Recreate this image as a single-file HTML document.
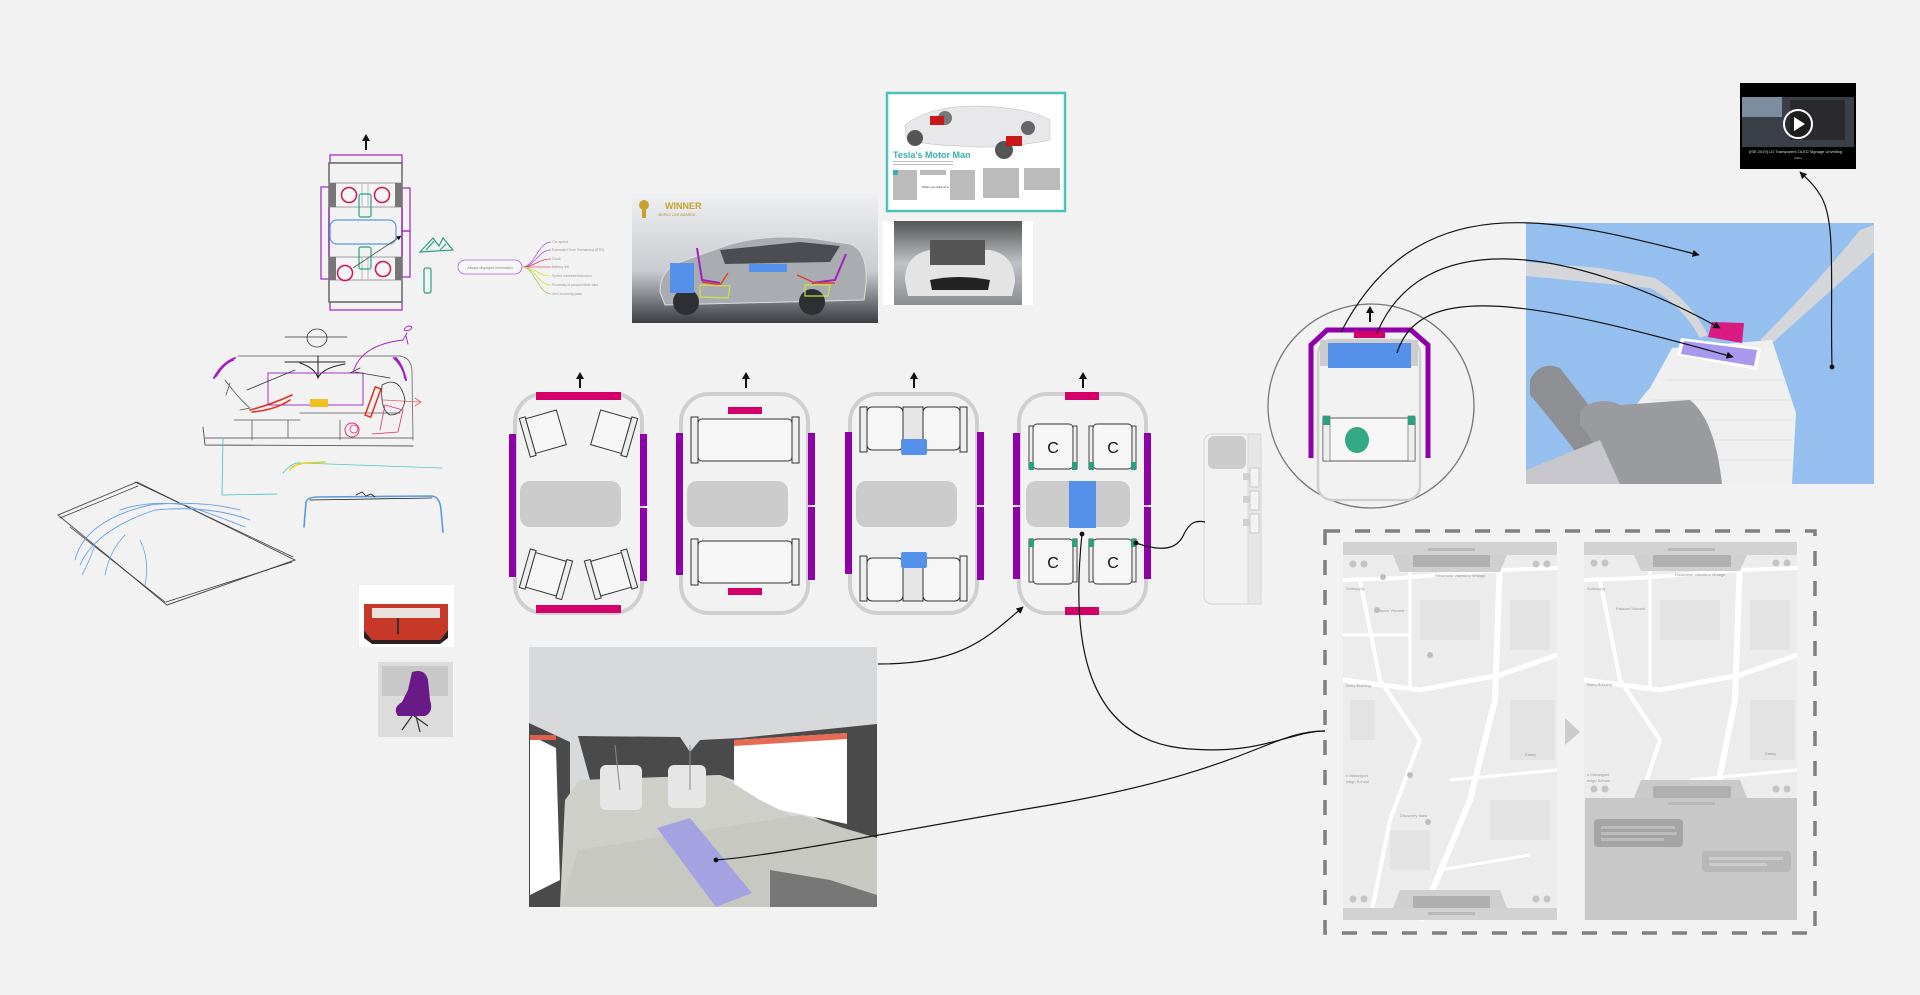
<!DOCTYPE html>
<html><head><meta charset="utf-8"><style>
html,body{margin:0;padding:0;background:#f2f2f2;}
svg{display:block;font-family:"Liberation Sans",sans-serif;}
</style></head><body>
<svg width="1920" height="995" viewBox="0 0 1920 995" xmlns="http://www.w3.org/2000/svg">
<defs>
<marker id="ah" viewBox="0 0 10 10" refX="9" refY="5" markerWidth="6" markerHeight="6" orient="auto"><path d="M0,0 L10,5 L0,10 z" fill="#111"/></marker>
<marker id="dot" viewBox="0 0 10 10" refX="5" refY="5" markerWidth="5" markerHeight="5"><circle cx="5" cy="5" r="4" fill="#111"/></marker>
<linearGradient id="rr" x1="0" y1="0" x2="0" y2="1"><stop offset="0" stop-color="#eef0f2"/><stop offset="0.6" stop-color="#c9ccd0"/><stop offset="1" stop-color="#3a3d42"/></linearGradient>
<linearGradient id="eng" x1="0" y1="0" x2="0" y2="1"><stop offset="0" stop-color="#555"/><stop offset="0.5" stop-color="#bfc2c6"/><stop offset="1" stop-color="#8a8d90"/></linearGradient>
<g id="arrowUp"><line x1="0" y1="14" x2="0" y2="4" stroke="#111" stroke-width="2"/><path d="M-4,5 L0,-2 L4,5 z" fill="#111"/></g>
</defs>

<!-- ================= TOP-LEFT DIAGRAM ================= -->
<use href="#arrowUp" x="366" y="136"/>
<rect x="330" y="155" width="72" height="8" fill="none" stroke="#a020c0" stroke-width="1.2"/>
<rect x="330" y="302" width="72" height="8" fill="none" stroke="#a020c0" stroke-width="1.2"/>
<rect x="329" y="163" width="73" height="139" fill="#f2f2f2" stroke="#666" stroke-width="1.5"/>
<rect x="321" y="187" width="8" height="92" fill="none" stroke="#a020c0" stroke-width="1.2"/>
<rect x="402" y="188" width="8" height="43" fill="none" stroke="#a020c0" stroke-width="1.2"/>
<rect x="402" y="231" width="8" height="46" fill="none" stroke="#a020c0" stroke-width="1.2"/>
<rect x="329" y="183" width="73" height="24" fill="#f5f5f5" stroke="#888" stroke-width="0.8"/>
<rect x="329" y="183" width="7" height="24" fill="#777"/><rect x="395" y="183" width="7" height="24" fill="#777"/>
<rect x="329" y="257" width="73" height="23" fill="#f5f5f5" stroke="#888" stroke-width="0.8"/>
<rect x="329" y="257" width="7" height="23" fill="#777"/><rect x="395" y="257" width="7" height="23" fill="#777"/>
<line x1="362" y1="183" x2="362" y2="207" stroke="#bbb"/><line x1="368" y1="183" x2="368" y2="207" stroke="#bbb"/>
<line x1="362" y1="257" x2="362" y2="280" stroke="#bbb"/><line x1="368" y1="257" x2="368" y2="280" stroke="#bbb"/>
<circle cx="349" cy="195" r="7.5" fill="none" stroke="#d0105a" stroke-width="1.5"/>
<circle cx="382" cy="195" r="7.5" fill="none" stroke="#d0105a" stroke-width="1.5"/>
<circle cx="345" cy="273" r="7.5" fill="none" stroke="#d0105a" stroke-width="1.5"/>
<circle cx="383" cy="269" r="7.5" fill="none" stroke="#d0105a" stroke-width="1.5"/>
<rect x="359" y="194" width="12" height="23" rx="2" fill="none" stroke="#2aa080" stroke-width="1.2"/>
<rect x="359" y="247" width="12" height="22" rx="2" fill="none" stroke="#2aa080" stroke-width="1.2"/>
<rect x="330" y="220" width="66" height="24" rx="7" fill="none" stroke="#5a9ae0" stroke-width="1.2"/>
<line x1="353" y1="268" x2="401" y2="236" stroke="#555" stroke-width="0.8" marker-end="url(#ah)"/>
<path d="M420,252 L433,238 L439,246 L443,238 L453,250 z M426,250 L434,241 M440,250 L446,244" fill="none" stroke="#2aa080" stroke-width="1.2"/>
<rect x="424" y="268" width="7" height="25" rx="2" fill="none" stroke="#2aa080" stroke-width="1.2"/>
<!-- mindmap -->
<rect x="458" y="260" width="64" height="14" rx="7" fill="#f6f6f6" stroke="#b060e0" stroke-width="0.8"/>
<text x="490" y="269" font-size="3.5" fill="#888" text-anchor="middle">Always displayed information</text>
<g fill="none" stroke-width="0.8">
<path d="M522,267 C535,267 538,242 551,242" stroke="#b060e0"/>
<path d="M522,267 C535,267 538,250 551,250" stroke="#b060e0"/>
<path d="M522,267 C535,267 538,259 551,259" stroke="#e0307a"/>
<path d="M522,267 L551,267" stroke="#e05070"/>
<path d="M522,267 C535,267 538,276 551,276" stroke="#e0e040"/>
<path d="M522,267 C535,267 538,285 551,285" stroke="#c8e040"/>
<path d="M522,267 C535,267 538,294 551,294" stroke="#90d060"/>
</g>
<g font-size="3.5" fill="#999">
<text x="552" y="243">Car speed</text><text x="552" y="251">Estimated Time Remaining (ETR)</text>
<text x="552" y="260">Clock</text><text x="552" y="268">Battery left</text>
<text x="552" y="277">Speed increase/reduction</text><text x="552" y="286">Proximity of people/other cars</text>
<text x="552" y="295">next incoming pass</text></g>

<!-- ================= SKETCHES ================= -->
<g fill="none" stroke-linecap="round">
<path d="M285,337 L347,337" stroke="#333" stroke-width="0.8"/>
<ellipse cx="317" cy="338" rx="10" ry="9" stroke="#333" stroke-width="0.8"/>
<path d="M238,356 L400,356 Q412,358 412,372 L413,440" stroke="#777" stroke-width="0.9"/>
<path d="M203,427 L205,445 L413,446" stroke="#555" stroke-width="0.9"/>
<path d="M205,438 L413,438" stroke="#444" stroke-width="0.8"/>
<path d="M234,420 L300,420 M300,413 L400,413 M252,420 L252,440 M288,420 L288,438 M340,420 L340,440" stroke="#555" stroke-width="0.8"/>
<path d="M285,362 L345,362 M300,363 Q315,368 318,378 Q322,368 345,364 M318,356 L318,378" stroke="#222" stroke-width="1"/>
<path d="M225,380 Q240,400 250,408 L240,410 M230,383 L226,395" stroke="#555" stroke-width="0.8"/>
<rect x="268" y="373" width="95" height="32" stroke="#a020c0" stroke-width="0.9"/>
<path d="M247,390 L295,370 M355,372 L390,378 M350,373 L360,368" stroke="#333" stroke-width="0.8"/>
<path d="M353,373 Q360,345 403,340 L407,333" stroke="#a020c0" stroke-width="0.9"/>
<path d="M404,330 q3,-6 8,-3 q-2,5 -8,3 M406,336 l2,8" stroke="#a020c0" stroke-width="0.9"/>
<path d="M214,378 Q222,363 235,358 M216,376 Q225,362 233,360" stroke="#a020c0" stroke-width="2"/>
<path d="M394,358 Q403,366 406,380 M396,358 Q404,368 405,378" stroke="#a020c0" stroke-width="2"/>
<path d="M250,410 Q270,405 292,395 M252,412 Q275,410 290,400" stroke="#e03020" stroke-width="1.6"/>
<rect x="370" y="387" width="6" height="30" transform="rotate(20 373 402)" stroke="#e03020" stroke-width="1.5"/>
<path d="M383,400 L420,402 M415,398 L421,402 L415,406" stroke="#e06060" stroke-width="0.8"/>
<path d="M382,385 Q400,375 405,400 Q403,415 390,415 Q380,410 382,385" stroke="#333" stroke-width="0.8"/>
<path d="M380,430 L385,405 L403,410 L398,432 L372,434" stroke="#e0307a" stroke-width="0.8"/>
<circle cx="352" cy="430" r="7" stroke="#e0307a" stroke-width="1"/><circle cx="354" cy="429" r="4" stroke="#e0307a" stroke-width="0.8"/>
<path d="M223,438 L222,495 L277,494" stroke="#40c0c0" stroke-width="0.8"/>
<path d="M283,473 Q292,462 300,463 L442,468" stroke="#50c8c8" stroke-width="0.8"/>
<path d="M290,470 Q292,465 305,463 L325,462" stroke="#e8d020" stroke-width="1.6"/>
<path d="M304,527 L306,502 Q308,497 318,497 L432,496 Q440,497 441,510 L443,532" stroke="#5a9ae0" stroke-width="1.6"/>
<path d="M310,500 L432,498" stroke="#222" stroke-width="0.8"/>
<path d="M356,495 l6,-3 l4,4 l5,-2 l4,3" stroke="#222" stroke-width="0.8"/>
<path d="M58,515 L137,482 L295,560 L167,605 Z" stroke="#555" stroke-width="1"/>
<path d="M60,518 L138,486 M135,482 L293,557 M70,527 L165,602 M166,602 L292,562" stroke="#333" stroke-width="0.7"/>
<path d="M75,560 Q85,520 150,505 Q200,500 240,510 M80,565 Q95,530 155,510 Q210,505 250,520 M120,510 Q150,500 185,505 Q215,515 245,527" stroke="#6aa0e8" stroke-width="0.9"/>
<path d="M82,575 Q90,560 95,545 M105,575 Q110,550 125,535 M140,540 Q150,560 145,585" stroke="#6aa0e8" stroke-width="0.8"/>
</g>
<rect x="310" y="399" width="18" height="8" fill="#f0c020"/>

<!-- ================= PHOTOS LEFT ================= -->
<rect x="359" y="585" width="95" height="62" fill="#fff"/>
<path d="M364,604 L448,604 L448,630 L440,640 L372,640 L364,630 z" fill="#c83828"/>
<path d="M372,608 L440,608 L440,618 L372,618 z" fill="#e9e2dc"/>
<path d="M364,630 L372,640 L440,640 L448,630 L448,638 L440,644 L372,644 L364,638 z" fill="#2a2020"/>
<rect x="397" y="618" width="2" height="16" fill="#333"/>
<rect x="378" y="662" width="75" height="75" fill="#dcdcdc"/>
<rect x="382" y="666" width="66" height="30" fill="#c8c8c8"/>
<path d="M412,672 Q425,668 428,680 L430,700 Q434,712 425,716 L398,716 Q392,708 402,702 L408,690 Z" fill="#6a1a86"/>
<path d="M412,716 L402,730 M416,716 L420,732 M414,716 L428,726" stroke="#333" stroke-width="1.2"/>

<!-- ================= TOP IMAGES ================= -->
<rect x="632" y="193" width="246" height="130" fill="url(#rr)"/>
<path d="M660,292 Q660,270 680,262 L725,246 Q760,234 810,238 L850,244 Q868,250 866,285 L864,300 L665,305 Z" fill="#a9acb0" stroke="#ddd"/>
<path d="M720,250 L800,242 L840,246 L830,262 L725,264 Z" fill="#4a4d52"/>
<circle cx="686" cy="302" r="13" fill="#2d2f33"/><circle cx="812" cy="302" r="13" fill="#2d2f33"/>
<rect x="670" y="263" width="24" height="30" fill="#5591ea"/>
<rect x="749" y="264" width="38" height="8" fill="#5591ea"/>
<path d="M697,248 L702,280 L720,283 M846,254 L835,280 L812,283" fill="none" stroke="#a020c0" stroke-width="2"/>
<path d="M702,282 L720,285 L728,273 M797,275 L815,283 L835,283" fill="none" stroke="#e04020" stroke-width="1.4"/>
<path d="M700,285 L730,286 L728,298 L700,297 z M805,285 L830,285 L828,296 L805,296 z" fill="none" stroke="#d0e040" stroke-width="1.2"/>
<circle cx="644" cy="205" r="5" fill="#c8a030"/><rect x="642" y="208" width="4" height="10" fill="#c8a030"/>
<text x="665" y="209" font-size="9" font-weight="bold" fill="#c8a030">WINNER</text>
<text x="658" y="216" font-size="3.5" fill="#b09030">WORLD CAR AWARDS</text>
<rect x="887" y="93" width="178" height="118" fill="#fff" stroke="#4ec0b8" stroke-width="2.5"/>
<path d="M905,125 Q930,105 980,106 Q1030,108 1050,120 L1050,140 Q1000,150 960,146 Q920,145 906,138 Z" fill="#e8e8ea" stroke="#bbb" stroke-width="0.5"/>
<circle cx="915" cy="138" r="8" fill="#555"/><circle cx="1004" cy="150" r="9" fill="#555"/><circle cx="1028" cy="128" r="7" fill="#666"/><circle cx="945" cy="118" r="7" fill="#777"/>
<rect x="930" y="116" width="14" height="9" fill="#c81818"/><rect x="1006" y="136" width="16" height="10" fill="#c81818"/>
<text x="893" y="158" font-size="9" font-weight="bold" fill="#3ab0b0">Tesla's Motor Man</text>
<g fill="#bbb"><rect x="893" y="161" width="60" height="1"/><rect x="893" y="164" width="60" height="1"/>
<rect x="893" y="170" width="24" height="30"/><rect x="920" y="170" width="26" height="5"/><rect x="950" y="170" width="25" height="30"/>
<rect x="983" y="168" width="36" height="30"/><rect x="1024" y="168" width="36" height="22"/></g>
<rect x="893" y="170" width="5" height="5" fill="#3ab0b0"/>
<rect x="919" y="182" width="30" height="14" fill="#fff"/><text x="922" y="188" font-size="3" fill="#333">When you think of a</text>
<rect x="883" y="221" width="150" height="84" fill="#fff"/>
<rect x="894" y="221" width="128" height="84" fill="url(#eng)"/>
<path d="M905,280 Q905,255 930,250 L990,250 Q1015,255 1015,282 L1012,296 L908,296 Z" fill="#e4e4e4"/>
<rect x="930" y="240" width="55" height="25" fill="#555"/>
<path d="M930,280 Q958,274 990,280 L988,290 L932,290 Z" fill="#222"/>

<!-- ================= CARS ================= -->
<use href="#arrowUp" x="580" y="374"/>
<use href="#arrowUp" x="746" y="374"/>
<use href="#arrowUp" x="914" y="374"/>
<use href="#arrowUp" x="1083" y="374"/>

<g transform="translate(515,394)">
<rect x="0" y="0" width="127" height="219" rx="28" fill="#f2f2f2" stroke="#cfcfcf" stroke-width="4"/>
<rect x="21" y="-2" width="85" height="8" fill="#d4006a"/>
<rect x="21" y="211" width="85" height="8" fill="#d4006a"/>
<rect x="-6" y="40" width="7" height="143" fill="#8e00a8"/>
<rect x="125" y="40" width="7" height="72" fill="#8e00a8"/><rect x="125" y="114" width="7" height="73" fill="#8e00a8"/>
<rect x="5" y="87" width="101" height="46" rx="10" fill="#cccccc"/>
<g stroke="#333" stroke-width="1" fill="#f6f6f6">
<g transform="translate(30,38) rotate(-16)"><rect x="-15" y="-18" width="32" height="36"/><rect x="-21" y="-20" width="6" height="40" fill="#eee"/></g>
<g transform="translate(97,38) rotate(16)"><rect x="-17" y="-18" width="32" height="36"/><rect x="15" y="-20" width="6" height="40" fill="#eee"/></g>
<g transform="translate(30,180) rotate(16)"><rect x="-15" y="-18" width="32" height="36"/><rect x="17" y="-20" width="6" height="40" fill="#eee"/><rect x="-21" y="-20" width="6" height="40" fill="#eee"/></g>
<g transform="translate(97,180) rotate(-16)"><rect x="-17" y="-18" width="32" height="36"/><rect x="-23" y="-20" width="6" height="40" fill="#eee"/><rect x="15" y="-20" width="6" height="40" fill="#eee"/></g>
</g>
</g>

<g transform="translate(681,394)">
<rect x="0" y="0" width="127" height="219" rx="28" fill="#f2f2f2" stroke="#cfcfcf" stroke-width="4"/>
<rect x="47" y="13" width="34" height="7" fill="#d4006a"/>
<rect x="47" y="194" width="34" height="7" fill="#d4006a"/>
<rect x="-5" y="39" width="7" height="142" fill="#8e00a8"/>
<rect x="127" y="39" width="7" height="72" fill="#8e00a8"/><rect x="127" y="113" width="7" height="73" fill="#8e00a8"/>
<rect x="6" y="87" width="101" height="46" rx="10" fill="#cccccc"/>
<g stroke="#333" stroke-width="1" fill="#f6f6f6">
<rect x="17" y="25" width="94" height="42" rx="4"/><rect x="10" y="23" width="7" height="46" fill="#eee"/><rect x="111" y="23" width="7" height="46" fill="#eee"/>
<rect x="17" y="147" width="94" height="42" rx="4"/><rect x="10" y="145" width="7" height="46" fill="#eee"/><rect x="111" y="145" width="7" height="46" fill="#eee"/>
</g>
</g>

<g transform="translate(850,394)">
<rect x="0" y="0" width="127" height="219" rx="28" fill="#f2f2f2" stroke="#cfcfcf" stroke-width="4"/>
<rect x="-5" y="38" width="7" height="142" fill="#8e00a8"/>
<rect x="127" y="38" width="7" height="73" fill="#8e00a8"/><rect x="127" y="113" width="7" height="73" fill="#8e00a8"/>
<rect x="6" y="87" width="101" height="46" rx="10" fill="#cccccc"/>
<g stroke="#333" stroke-width="1" fill="#f6f6f6">
<rect x="10" y="13" width="7" height="45" fill="#eee"/><rect x="17" y="13" width="36" height="43" rx="5"/><rect x="53" y="13" width="20" height="43" fill="#e6e6e6"/><rect x="73" y="13" width="37" height="43" rx="5"/><rect x="110" y="13" width="7" height="45" fill="#eee"/>
<rect x="10" y="162" width="7" height="45" fill="#eee"/><rect x="17" y="164" width="36" height="43" rx="5"/><rect x="53" y="164" width="20" height="43" fill="#e6e6e6"/><rect x="73" y="164" width="37" height="43" rx="5"/><rect x="110" y="162" width="7" height="45" fill="#eee"/>
</g>
<rect x="51" y="45" width="26" height="16" rx="2" fill="#5591ea"/>
<rect x="51" y="158" width="26" height="16" rx="2" fill="#5591ea"/>
</g>

<g transform="translate(1019,394)">
<rect x="0" y="0" width="127" height="219" rx="28" fill="#f2f2f2" stroke="#cfcfcf" stroke-width="4"/>
<rect x="46" y="-2" width="34" height="8" fill="#d4006a"/>
<rect x="46" y="213" width="34" height="8" fill="#d4006a"/>
<rect x="-6" y="39" width="7" height="72" fill="#8e00a8"/><rect x="-6" y="113" width="7" height="72" fill="#8e00a8"/>
<rect x="125" y="39" width="7" height="72" fill="#8e00a8"/><rect x="125" y="113" width="7" height="72" fill="#8e00a8"/>
<rect x="7" y="87" width="104" height="46" rx="10" fill="#cccccc"/>
<rect x="50" y="87" width="27" height="47" fill="#5591ea"/>
<g stroke="#333" stroke-width="0.9" fill="#f6f6f6">
<rect x="14" y="30" width="40" height="45" rx="4"/><rect x="10" y="32" width="4" height="43" fill="#eee"/><rect x="54" y="32" width="4" height="43" fill="#eee"/>
<rect x="74" y="30" width="39" height="45" rx="4"/><rect x="70" y="32" width="4" height="43" fill="#eee"/><rect x="113" y="32" width="4" height="43" fill="#eee"/>
<rect x="14" y="145" width="40" height="45" rx="4"/><rect x="10" y="145" width="4" height="43" fill="#eee"/><rect x="54" y="145" width="4" height="43" fill="#eee"/>
<rect x="74" y="145" width="39" height="45" rx="4"/><rect x="70" y="145" width="4" height="43" fill="#eee"/><rect x="113" y="145" width="4" height="43" fill="#eee"/>
</g>
<g fill="#2aa080">
<rect x="10" y="68" width="5" height="8"/><rect x="53" y="68" width="5" height="8"/><rect x="70" y="68" width="5" height="8"/><rect x="112" y="68" width="5" height="8"/>
<rect x="10" y="145" width="5" height="8"/><rect x="53" y="145" width="5" height="8"/><rect x="70" y="145" width="5" height="8"/><rect x="112" y="145" width="5" height="8"/>
</g>
<g font-size="16" fill="#111" text-anchor="middle" font-family="Liberation Sans"><text x="34" y="59">C</text><text x="94" y="59">C</text><text x="34" y="174">C</text><text x="94" y="174">C</text></g>
</g>

<!-- phone device -->
<rect x="1204" y="434" width="57" height="170" rx="8" fill="#f2f2f2" stroke="#d8d8d8" stroke-width="1.2"/>
<rect x="1248" y="434" width="13" height="170" fill="#e6e6e6" stroke="#d8d8d8"/>
<rect x="1208" y="436" width="38" height="33" rx="6" fill="#cccccc"/>
<g fill="#f2f2f2" stroke="#c8c8c8"><rect x="1250" y="468" width="9" height="19" rx="1"/><rect x="1250" y="491" width="9" height="19" rx="1"/><rect x="1250" y="514" width="9" height="19" rx="1"/></g>
<g fill="#d0d0d0"><rect x="1243" y="473" width="7" height="7"/><rect x="1243" y="496" width="7" height="7"/><rect x="1243" y="519" width="7" height="7"/></g>

<!-- VR image -->
<rect x="529" y="647" width="348" height="260" fill="#d8d9db"/>
<path d="M529,723 L570,742 L570,907 L529,907 Z" fill="#4a4a4a"/>
<path d="M578,736 L680,737 L690,752 L700,740 L740,738 L877,724 L877,840 L820,820 L760,790 L720,775 L590,780 Z" fill="#4a4a4a"/>
<path d="M530,735 L556,748 L560,880 L530,895 Z" fill="#fff"/>
<rect x="530" y="735" width="26" height="5" fill="#e06050"/>
<path d="M734,740 L847,733 L847,824 L734,800 Z" fill="#fff"/>
<path d="M734,740 L847,733 L847,739 L734,746 Z" fill="#e86a55"/>
<path d="M580,780 L720,775 L760,800 L840,840 L877,860 L877,907 L560,907 L565,800 Z" fill="#cfcfca"/>
<path d="M578,850 L800,815 L877,838 L877,907 L560,907 Z" fill="#c8c8c3"/>
<path d="M657,828 L690,818 L752,893 L716,907 Z" fill="#a4a2e0"/>
<rect x="600" y="765" width="42" height="45" rx="6" fill="#e6e6e6"/><rect x="668" y="765" width="38" height="43" rx="6" fill="#e6e6e6"/>
<path d="M615,745 L620,790 M690,745 L690,790" stroke="#888" stroke-width="1"/>
<path d="M770,870 L830,880 L877,895 L877,907 L770,907 Z" fill="#777"/>

<!-- ============ CIRCLE DETAIL ============ -->
<ellipse cx="1371" cy="406" rx="103" ry="102" fill="none" stroke="#777" stroke-width="1.3"/>
<rect x="1318" y="340" width="102" height="160" rx="14" fill="#f2f2f2" stroke="#cfcfcf" stroke-width="2.5"/>
<rect x="1320" y="340" width="98" height="26" fill="#cccccc"/>
<path d="M1311,458 L1311,345 L1327,330 L1411,330 L1428,345 L1428,458" fill="none" stroke="#8e00a8" stroke-width="5"/>
<rect x="1328" y="343" width="83" height="25" fill="#5591ea"/>
<rect x="1354" y="331" width="31" height="7" fill="#d4006a"/>
<rect x="1323" y="418" width="92" height="43" fill="#f6f6f6" stroke="#333" stroke-width="0.8"/>
<rect x="1323" y="416" width="7" height="45" fill="#eee" stroke="#555" stroke-width="0.6"/>
<rect x="1408" y="416" width="7" height="45" fill="#eee" stroke="#555" stroke-width="0.6"/>
<rect x="1323" y="416" width="7" height="9" fill="#2aa080"/><rect x="1408" y="416" width="7" height="9" fill="#2aa080"/>
<ellipse cx="1357" cy="440" rx="12" ry="13" fill="#35a884"/>
<use href="#arrowUp" x="1370" y="308"/>

<!-- 3D image -->
<rect x="1526" y="223" width="348" height="261" fill="#95bfee"/>
<path d="M1526,262 L1600,268 L1655,278 Q1690,300 1708,335 L1700,338 Q1682,305 1650,288 L1526,276 Z" fill="#d4d6da"/>
<path d="M1874,225 L1874,252 L1770,345 L1760,340 Q1820,280 1860,230 Z" fill="#d4d6da"/>
<path d="M1672,348 L1772,340 L1796,413 L1792,484 L1590,484 Q1625,415 1650,388 Z" fill="#efefef"/>
<g stroke="#e2e2e2" stroke-width="1"><path d="M1665,380 L1785,380 M1652,400 L1790,400 M1640,420 L1792,420 M1628,440 L1792,440 M1615,460 L1792,460"/></g>
<path d="M1681,338 L1761,348 L1757,370 L1677,355 Z" fill="#ffffff"/>
<path d="M1684,341 L1757,350 L1754,366 L1681,354 Z" fill="#a898ee"/>
<path d="M1712,322 L1744,323 L1742,343 L1708,337 Z" fill="#d81a82"/>
<path d="M1530,380 Q1540,360 1560,368 Q1600,420 1640,470 L1640,484 L1600,484 Q1560,430 1530,395 Z" fill="#8e8f93"/>
<path d="M1580,410 Q1600,395 1620,405 L1690,400 Q1715,420 1722,484 L1610,484 Q1595,440 1580,425 Z" fill="#9a9b9f"/>
<path d="M1526,470 L1600,440 L1620,484 L1526,484 Z" fill="#c6c6cc"/>

<!-- video -->
<rect x="1740" y="83" width="116" height="86" fill="#000"/>
<rect x="1742" y="97" width="112" height="50" fill="#3a3f48"/>
<rect x="1742" y="97" width="40" height="20" fill="#7a8ea0"/>
<rect x="1790" y="100" width="55" height="40" fill="#2a2a2c"/>
<circle cx="1798" cy="124" r="14" fill="rgba(0,0,0,0.3)" stroke="#fff" stroke-width="2"/>
<path d="M1794,117 L1805,124 L1794,131 Z" fill="#fff"/>
<text x="1749" y="153" font-size="4" fill="#ddd">[ISE 2019] LG Transparent OLED Signage Unveiling</text>
<text x="1794" y="159" font-size="3" fill="#ccc">Video</text>

<!-- ============ MAPS ============ -->
<rect x="1325" y="531" width="490" height="402" fill="none" stroke="#808080" stroke-width="3.5" stroke-dasharray="15 15"/>
<g>
<rect x="1343" y="542" width="214" height="378" fill="#ececec"/>
<g stroke="#fff" fill="none">
<path d="M1343,580 L1400,578 L1500,570 L1557,568" stroke-width="4"/>
<path d="M1410,555 L1410,690" stroke-width="3"/>
<path d="M1500,560 L1495,700 L1470,800 L1420,920" stroke-width="6"/>
<path d="M1343,680 L1420,690 L1500,675 L1557,655" stroke-width="5"/>
<path d="M1360,580 L1380,680 L1420,740 L1390,820 L1370,920" stroke-width="4"/>
<path d="M1450,780 L1557,770" stroke-width="3"/>
<path d="M1440,870 L1530,855" stroke-width="3"/>
<path d="M1343,635 L1410,635" stroke-width="3"/>
</g>
<g fill="#e3e3e3"><rect x="1420" y="600" width="60" height="40"/><rect x="1510" y="600" width="40" height="50"/><rect x="1510" y="700" width="45" height="60"/><rect x="1350" y="700" width="25" height="40"/><rect x="1490" y="800" width="60" height="40"/><rect x="1390" y="830" width="40" height="40"/></g>
<g fill="#999" font-size="4"><text x="1346" y="590">Sultsupply</text><text x="1375" y="612">Palazzo Visconti</text><text x="1435" y="577">Ristorante Valentino Vintage</text><text x="1346" y="687">Barry Building</text><text x="1346" y="777">o Marangoni</text><text x="1346" y="783">esign School</text><text x="1400" y="817">Discovery Italia</text><text x="1525" y="756">Eataly</text></g>
<g fill="#bdbdbd"><circle cx="1383" cy="577" r="3"/><circle cx="1377" cy="610" r="3"/><circle cx="1430" cy="655" r="3"/><circle cx="1410" cy="775" r="3"/><circle cx="1428" cy="822" r="3"/></g>
<rect x="1343" y="542" width="214" height="13" fill="#d2d2d2"/>
<path d="M1393,555 L1507,555 L1500,572 L1400,572 Z" fill="#cfcfcf"/>
<rect x="1413" y="555" width="77" height="12" fill="#b0b0b0"/>
<rect x="1428" y="548" width="47" height="3" fill="#b8b8b8"/>
<g fill="#c4c4c4"><circle cx="1353" cy="564" r="3.5"/><circle cx="1364" cy="564" r="3.5"/><circle cx="1536" cy="564" r="3.5"/><circle cx="1547" cy="564" r="3.5"/>
<circle cx="1353" cy="899" r="3.5"/><circle cx="1364" cy="899" r="3.5"/><circle cx="1536" cy="899" r="3.5"/><circle cx="1547" cy="899" r="3.5"/></g>
<path d="M1400,890 L1500,890 L1507,908 L1393,908 Z" fill="#cfcfcf"/>
<rect x="1343" y="908" width="214" height="12" fill="#d2d2d2"/>
<rect x="1413" y="896" width="77" height="12" fill="#b0b0b0"/>
<rect x="1428" y="912" width="47" height="3" fill="#b8b8b8"/>
</g>
<path d="M1565,718 L1580,732 L1565,745 Z" fill="#cccccc"/>
<g>
<rect x="1584" y="542" width="213" height="378" fill="#ececec"/>
<g stroke="#fff" fill="none">
<path d="M1584,580 L1640,578 L1740,570 L1797,568" stroke-width="4"/>
<path d="M1650,555 L1650,690" stroke-width="3"/>
<path d="M1740,560 L1735,700 L1715,800" stroke-width="6"/>
<path d="M1584,680 L1660,690 L1740,675 L1797,655" stroke-width="5"/>
<path d="M1600,580 L1620,680 L1660,740 L1640,800" stroke-width="4"/>
<path d="M1690,780 L1797,770" stroke-width="3"/>
</g>
<g fill="#e3e3e3"><rect x="1660" y="600" width="60" height="40"/><rect x="1750" y="600" width="40" height="50"/><rect x="1750" y="700" width="45" height="60"/></g>
<g fill="#999" font-size="4"><text x="1587" y="590">Sultsupply</text><text x="1616" y="610">Palazzo Visconti</text><text x="1675" y="576">Ristorante Valentino Vintage</text><text x="1587" y="686">Barry Building</text><text x="1587" y="776">o Marangoni</text><text x="1587" y="782">esign School</text><text x="1765" y="755">Eataly</text></g>
<rect x="1584" y="542" width="213" height="13" fill="#d2d2d2"/>
<path d="M1634,555 L1747,555 L1740,571 L1641,571 Z" fill="#cfcfcf"/>
<rect x="1653" y="555" width="78" height="12" fill="#b0b0b0"/>
<rect x="1668" y="548" width="47" height="3" fill="#b8b8b8"/>
<g fill="#c4c4c4"><circle cx="1594" cy="563" r="3.5"/><circle cx="1605" cy="563" r="3.5"/><circle cx="1776" cy="563" r="3.5"/><circle cx="1787" cy="563" r="3.5"/>
<circle cx="1594" cy="789" r="3.5"/><circle cx="1605" cy="789" r="3.5"/><circle cx="1776" cy="789" r="3.5"/><circle cx="1787" cy="789" r="3.5"/></g>
<path d="M1641,780 L1740,780 L1747,798 L1634,798 Z" fill="#cacaca"/>
<rect x="1585" y="798" width="212" height="122" fill="#c8c8c8"/>
<rect x="1653" y="786" width="78" height="12" fill="#b0b0b0"/>
<rect x="1668" y="802" width="47" height="3" fill="#b8b8b8"/>
<rect x="1594" y="819" width="89" height="28" rx="4" fill="#a4a4a4"/>
<g fill="#bcbcbc"><rect x="1601" y="826" width="74" height="3"/><rect x="1601" y="832" width="76" height="3"/><rect x="1601" y="838" width="63" height="3"/></g>
<rect x="1702" y="851" width="89" height="21" rx="4" fill="#b8b8b8"/>
<g fill="#cccccc"><rect x="1709" y="857" width="74" height="3"/><rect x="1709" y="863" width="58" height="3"/></g>
</g>

<!-- ============ CONNECTORS ============ -->
<g fill="none" stroke="#111" stroke-width="1.2">
<path d="M878,664 C960,664 985,640 1023,607" marker-end="url(#ah)"/>
<path d="M1082,534 C1072,630 1080,735 1180,748 C1260,757 1290,731 1325,731" marker-start="url(#dot)"/>
<path d="M1325,731 C1270,731 1250,770 1050,805 C900,830 780,855 716,860" marker-end="url(#dot)"/>
<path d="M1136,543 C1165,553 1178,548 1184,534 C1190,522 1196,520 1205,522" marker-start="url(#dot)"/>
<path d="M1341,332 C1420,180 1560,220 1699,255" marker-end="url(#ah)"/>
<path d="M1377,333 C1420,230 1560,240 1720,328" marker-end="url(#ah)"/>
<path d="M1397,353 C1420,280 1530,300 1733,357" marker-end="url(#ah)"/>
<path d="M1832,367 C1830,280 1836,225 1822,198 C1814,184 1806,178 1800,172" marker-start="url(#dot)" marker-end="url(#ah)"/>
</g>
</svg>
</body></html>
